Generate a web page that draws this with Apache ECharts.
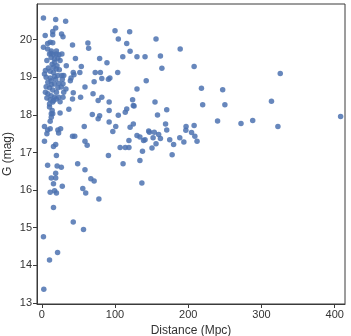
<!DOCTYPE html>
<html>
<head>
<meta charset="utf-8">
<script src="https://cdn.jsdelivr.net/npm/echarts@6/dist/echarts.min.js"></script>
<style>
html, body { margin: 0; padding: 0; background: #fff; }
#chart { width: 351px; height: 336px; }
</style>
</head>
<body>
<div id="chart"></div>
<script>
// distance (Mpc) / G magnitude
var distance = [
  2.3, 19, 32.6, 19, 15, 4.7, 27, 29, 15, 11.5, 15, 8, 2.3, 42, 63, 64,
  10.6, 12.8, 16, 19.8, 23.4, 27.5, 12.8, 17.5, 22, 17.5, 14.2, 20.8,
  16, 19.8, 11.5, 16, 5, 3.7, 6, 11.5, 17.5, 22, 27.5, 8.3, 12.8, 17.5, 23.4,
  6, 10.6, 15, 22, 26.6, 8.3, 12.8, 17.5, 11.5, 16, 19.8, 10.6, 15, 10.6, 14.2,
  8, 13, 20, 25, 7, 9, 24, 28, 30, 5, 20, 25, 7, 13, 19,
  100, 120, 104.5, 116, 120.6, 110.6, 130, 141, 142.6, 130, 124, 126, 116, 104.5,
  92, 92, 79, 69, 103.7, 93, 91, 82, 80, 73, 71.5, 89, 79, 59, 70, 77, 82, 53,
  42, 37, 43, 46, 33.5, 54, 52, 43, 40, 44, 39, 30, 29, 33, 29, 23, 25, 13,
  15, 13, 11.5, 3.7, 8, 7, 11.5, 22, 25.7, 23, 3.7, 16, 19, 20, 8, 21, 26.7,
  19, 13, 19, 16, 28, 11.5, 17.5, 20, 16, 42, 45, 58, 59, 62, 49, 59, 67, 71.5,
  56, 60, 78, 91, 111, 136.7, 77, 92, 97, 101, 114, 120.6, 125, 107, 114, 119,
  119, 130, 134, 139, 141, 137.5, 134, 146, 125,
  43, 57, 2.3, 21.6, 10.6, 2.8,
  156, 189, 162, 164, 208, 218, 247, 154.6, 170.6, 158, 219.7, 250, 240, 288,
  169, 170.6, 147, 153.6, 159.6, 152, 162, 156, 150.5, 174.7, 180, 178, 188.4,
  194, 197, 196.7, 208, 204.5, 209, 212, 272,
  325.6, 313.6, 408, 322.4
];
var gMag = [
  20.58, 20.54, 20.49, 20.31, 20.22, 20.11, 20.15, 20.08, 20.13, 19.93, 19.92, 19.90, 19.80, 19.86, 19.91, 19.77,
  19.62, 19.64, 19.60, 19.62, 19.60, 19.62, 19.53, 19.49, 19.51, 19.40, 19.35, 19.31,
  19.27, 19.22, 19.16, 19.13, 19.18, 19.09, 19.00, 18.98, 19.02, 19.05, 19.05, 18.87, 18.91, 18.82, 18.84,
  18.75, 18.72, 18.66, 18.72, 18.74, 18.56, 18.51, 18.47, 18.40, 18.38, 18.42, 18.29, 18.34, 18.21, 18.12,
  19.75, 19.70, 19.70, 19.45, 19.45, 19.25, 19.20, 18.95, 18.60, 18.60, 18.60, 18.35, 18.45, 18.80, 18.95,
  20.24, 20.21, 20.02, 19.90, 19.69, 19.55, 19.55, 19.55, 18.91, 18.69, 18.40, 18.24, 18.16, 17.99,
  18.34, 18.12, 17.98, 18.01, 19.13, 18.98, 18.95, 18.97, 19.13, 19.13, 18.88, 19.39, 19.50, 18.74, 18.56, 18.38, 18.47, 18.47,
  18.42, 18.15, 18.59, 19.50, 19.31, 19.29, 19.13, 19.13, 18.98, 19.07, 18.91, 19.05, 18.83, 18.69, 18.47, 18.47, 18.05, 18.03,
  18.03, 17.94, 17.83, 17.69, 17.60, 17.50, 17.63, 17.60, 17.63, 17.52, 17.30, 17.16, 17.21, 16.92, 16.66, 16.64, 16.61,
  16.45, 16.32, 16.32, 16.17, 16.10, 15.94, 15.98, 15.92, 15.54, 17.43, 17.43, 17.69, 17.30, 17.19, 16.70, 16.54, 16.30, 16.24,
  16.04, 15.92, 15.76, 16.92, 16.70, 16.19, 17.90, 17.81, 17.56, 17.69, 18.07, 17.67, 17.76, 17.13, 17.13, 17.13,
  17.32, 17.45, 17.41, 17.32, 17.34, 17.03, 16.79, 17.57, 18.25,
  15.15, 14.95, 14.76, 14.34, 14.14, 13.36,
  20.02, 19.75, 19.57, 19.24, 19.29, 18.71, 18.67, 18.34, 18.14, 18.00, 18.27, 18.27, 17.84, 17.85,
  17.76, 17.60, 17.54, 17.54, 17.48, 17.39, 17.37, 17.23, 17.12, 17.34, 17.21, 16.94, 17.39,
  17.28, 17.69, 17.59, 17.72, 17.53, 17.43, 17.30, 17.77,
  19.10, 18.36, 17.96, 17.69
];
var xTicks = [0, 100, 200, 300, 400];
var yTicks = [13, 14, 15, 16, 17, 18, 19, 20];

var points = [];
for (var i = 0; i < distance.length; i++) {
  points.push([distance[i], gMag[i]]);
}

var chart = echarts.init(document.getElementById('chart'));
var option = {
  animation: false,
  grid: {
    left: 37, right: 6, top: 4, bottom: 32,
    containLabel: false,
    outerBoundsMode: 'none',
    show: true,
    borderColor: '#3a3a3a',
    borderWidth: 1
  },
  xAxis: {
    type: 'value',
    min: -6.5,
    max: 414,
    name: 'Distance (Mpc)',
    nameLocation: 'middle',
    nameGap: 21,
    nameMoveOverlap: false,
    nameTextStyle: { color: '#333', fontSize: 12, fontFamily: 'Liberation Sans' },
    axisLine: { show: true, onZero: false, lineStyle: { color: '#3a3a3a', width: 1 } },
    axisTick: { show: true, length: 4, customValues: xTicks, lineStyle: { color: '#3a3a3a' } },
    axisLabel: { customValues: xTicks, color: '#333', fontSize: 11, margin: 5, fontFamily: 'Liberation Sans' },
    splitLine: { show: false }
  },
  yAxis: {
    type: 'value',
    min: 12.97,
    max: 20.95,
    name: 'G (mag)',
    nameLocation: 'middle',
    nameGap: 23,
    nameRotate: 90,
    nameMoveOverlap: false,
    nameTextStyle: { color: '#333', fontSize: 12, fontFamily: 'Liberation Sans' },
    axisLine: { show: true, onZero: false, lineStyle: { color: '#3a3a3a', width: 1 } },
    axisTick: { show: true, length: 4, customValues: yTicks, lineStyle: { color: '#3a3a3a' } },
    axisLabel: { customValues: yTicks, color: '#333', fontSize: 11, margin: 5, fontFamily: 'Liberation Sans' },
    splitLine: { show: false }
  },
  series: [{
    type: 'scatter',
    data: points,
    symbolSize: 5.5,
    itemStyle: { color: '#4C72B0', opacity: 0.85 }
  }]
};
chart.setOption(option);
</script>
</body>
</html>
